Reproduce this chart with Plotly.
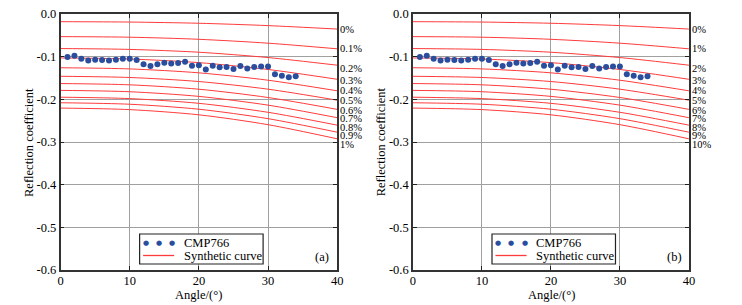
import plotly.graph_objects as go

# ---- data ----
angles_obs = list(range(1, 35))
cmp766 = [-0.101, -0.098, -0.105, -0.109, -0.107, -0.108, -0.109, -0.107, -0.105, -0.105,
          -0.108, -0.118, -0.122, -0.118, -0.114, -0.116, -0.115, -0.112, -0.121, -0.120,
          -0.130, -0.121, -0.125, -0.124, -0.129, -0.122, -0.128, -0.124, -0.123, -0.123,
          -0.141, -0.145, -0.148, -0.146]

curve_angles = [0, 10, 20, 30, 40]
curves = [
    [-0.018, -0.0189, -0.0217, -0.0272, -0.0353],
    [-0.053, -0.0544, -0.0593, -0.0684, -0.0816],
    [-0.081, -0.0830, -0.0896, -0.1021, -0.1200],
    [-0.103, -0.1055, -0.1140, -0.1300, -0.1530],
    [-0.126, -0.1287, -0.1379, -0.1552, -0.1800],
    [-0.146, -0.1488, -0.1583, -0.1762, -0.2020],
    [-0.163, -0.1660, -0.1763, -0.1957, -0.2235],
    [-0.179, -0.1822, -0.1931, -0.2136, -0.2430],
    [-0.195, -0.1983, -0.2094, -0.2304, -0.2605],
    [-0.208, -0.2115, -0.2232, -0.2453, -0.2770],
    [-0.2205, -0.2241, -0.2363, -0.2594, -0.2925],
]
labels_a = ["0%", "0.1%", "0.2%", "0.3%", "0.4%", "0.5%", "0.6%", "0.7%", "0.8%", "0.9%", "1%"]
labels_b = ["0%", "1%", "2%", "3%", "4%", "5%", "6%", "7%", "8%", "9%", "10%"]

xticks = [0, 10, 20, 30, 40]
yticks = [0.0, -0.1, -0.2, -0.3, -0.4, -0.5, -0.6]
yticktext = ["0.0", "-0.1", "-0.2", "-0.3", "-0.4", "-0.5", "-0.6"]

# ---- style ----
FONT = "Liberation Serif"
FS = 12.5
RED = "#ff3b3b"
BLUE = "#2a4d9e"
label_shift = [0, 0, -3, -1, 0, 0, -1, -1, -2, -3, -6]

W, H = 742, 305
TOP, BOT = 14, 270
panels = [
    dict(xa="x", ya="y", dom=(58.3 / W, 338.3 / W), labels=labels_a, tag="(a)"),
    dict(xa="x2", ya="y2", dom=(415.0 / W, 694.3 / W), labels=labels_b, tag="(b)"),
]

fig = go.Figure()
annotations = []
shapes = []


def py(v):
    return (BOT - v) / (BOT - TOP)


for p in panels:
    for c in curves:
        fig.add_trace(go.Scatter(x=curve_angles, y=c, mode="lines",
                                 line=dict(color=RED, width=1, shape="spline", smoothing=0.8),
                                 xaxis=p["xa"], yaxis=p["ya"], showlegend=False,
                                 hoverinfo="skip"))
    fig.add_trace(go.Scatter(x=angles_obs, y=cmp766, mode="markers",
                             marker=dict(color=BLUE, size=6),
                             xaxis=p["xa"], yaxis=p["ya"], showlegend=False))
    for c, lab, sh in zip(curves, p["labels"], label_shift):
        annotations.append(dict(x=40, y=c[-1], xref=p["xa"], yref=p["ya"], text=lab,
                                showarrow=False, xanchor="left", yanchor="middle",
                                xshift=1, yshift=sh,
                                font=dict(family=FONT, size=10.5, color="black")))
    x0 = p["dom"][0]

    def px(v, x0=x0):
        return x0 + v / W

    # legend box
    shapes.append(dict(type="rect", xref="paper", yref="paper", layer="above",
                       x0=px(80.0), x1=px(205.0), y0=py(264), y1=py(234),
                       line=dict(color="#222", width=1.2), fillcolor="white"))
    shapes.append(dict(type="line", xref="paper", yref="paper", layer="above",
                       x0=px(83.5), x1=px(115), y0=py(255.5), y1=py(255.5),
                       line=dict(color=RED, width=1.3)))
    for dx in (86.0, 99.5, 113.0):
        annotations.append(dict(xref="paper", yref="paper", x=px(dx), y=py(242.5),
                                text="●", showarrow=False, xanchor="center",
                                yanchor="middle",
                                font=dict(family="DejaVu Sans", size=7, color=BLUE)))
    annotations.append(dict(xref="paper", yref="paper", x=px(122.5), y=py(242.5),
                            text="CMP766", showarrow=False, xanchor="left", yanchor="middle",
                            font=dict(family=FONT, size=FS, color="black")))
    annotations.append(dict(xref="paper", yref="paper", x=px(122.5), y=py(256),
                            text="Synthetic curve", showarrow=False, xanchor="left",
                            yanchor="middle", font=dict(family=FONT, size=FS, color="black")))
    annotations.append(dict(xref="paper", yref="paper", x=px(264.5), y=py(256.5),
                            text=p["tag"], showarrow=False, xanchor="center", yanchor="middle",
                            font=dict(family=FONT, size=FS, color="black")))
    # axis titles
    annotations.append(dict(xref="paper", yref="paper", x=px(140), y=py(295),
                            text="Angle/(°)", showarrow=False, xanchor="center", yanchor="middle",
                            font=dict(family=FONT, size=FS, color="black")))
    annotations.append(dict(xref="paper", yref="paper", x=px(-32), y=py(142),
                            text="Reflection coefficient", showarrow=False, textangle=-90,
                            xanchor="center", yanchor="middle",
                            font=dict(family=FONT, size=FS, color="black")))

axis_common = dict(showgrid=True, gridcolor="#a0a0a0", gridwidth=1, zeroline=False,
                   showline=True, linecolor="#333", linewidth=1.5, mirror="ticks",
                   ticks="inside", ticklen=4, tickcolor="#222", tickwidth=1,
                   tickfont=dict(family=FONT, size=FS, color="black"))

layout = dict(width=W, height=H, margin=dict(l=0, r=0, t=TOP, b=H - BOT),
              plot_bgcolor="white", paper_bgcolor="white", showlegend=False,
              annotations=annotations, shapes=shapes)
for i, p in enumerate(panels):
    sfx = "" if i == 0 else "2"
    layout["xaxis" + sfx] = dict(axis_common, domain=list(p["dom"]), range=[0, 40],
                                 tickvals=xticks, anchor="y" + sfx, ticklabelstandoff=-2)
    layout["yaxis" + sfx] = dict(axis_common, domain=[0, 1], range=[-0.6, 0],
                                 tickvals=yticks, ticktext=yticktext, anchor="x" + sfx)

fig.update_layout(**layout)
fig.write_html("out.html", config={"displayModeBar": False},
               post_script="document.body.style.margin='0';")
